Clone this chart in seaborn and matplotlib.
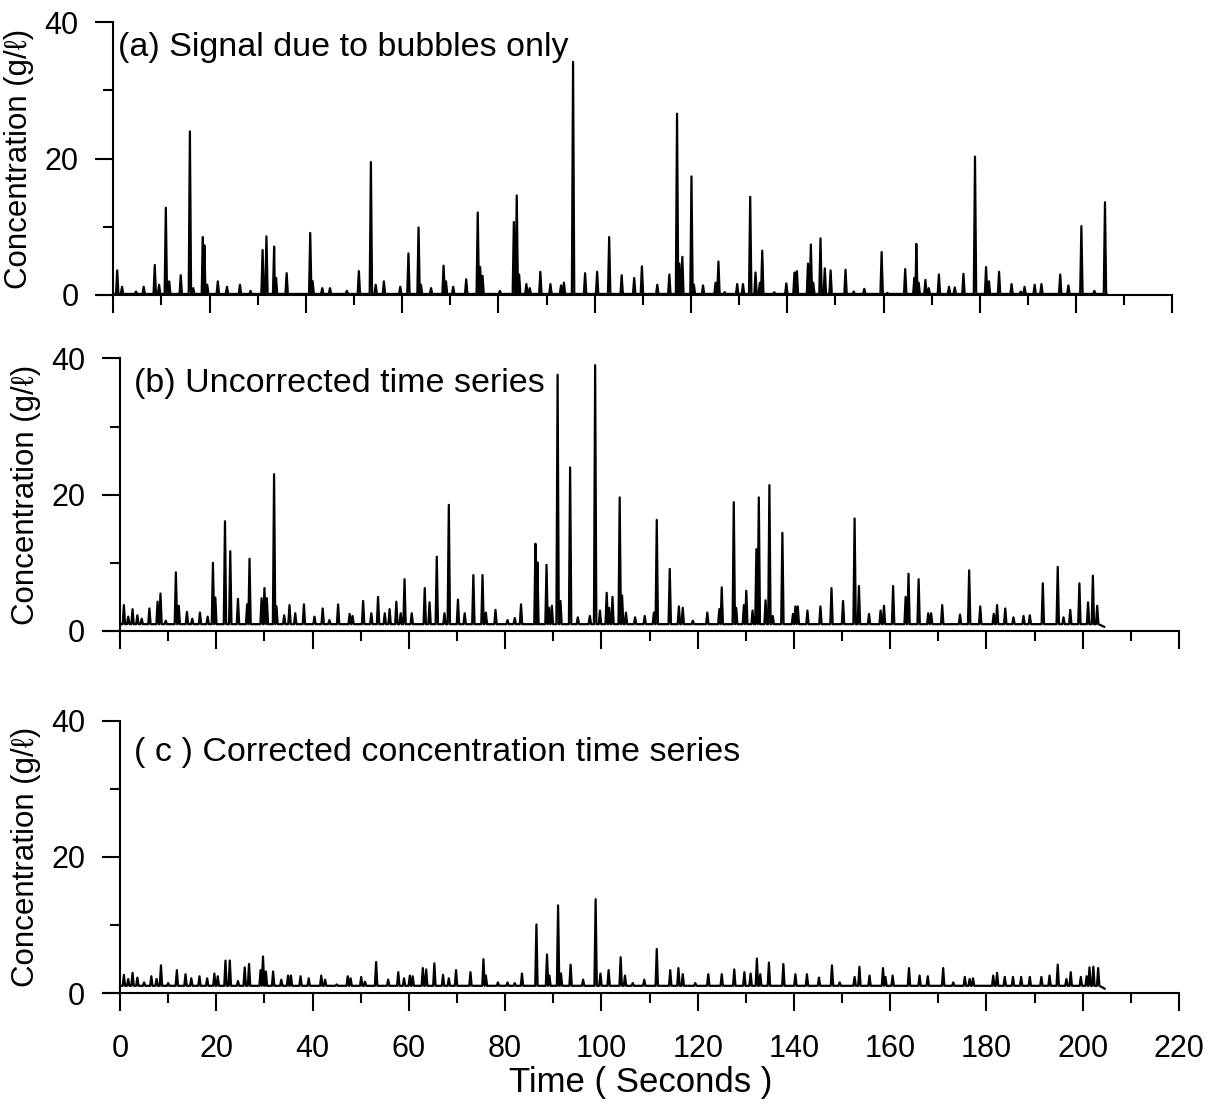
import pandas as pd
import matplotlib
matplotlib.use('Agg')
import matplotlib.pyplot as plt
import seaborn as sns
from matplotlib.ticker import MultipleLocator

# (a) signal due to bubbles only: spike times (s) and heights (g/l)
bubble_times = [0.8, 1.8, 4.7, 6.3, 8.6, 9.5, 10.9, 11.6, 14.0, 15.9, 16.6, 18.6, 18.9, 19.5,
                21.7, 23.6, 26.3, 28.5, 31.0, 31.8, 33.4, 33.8, 36.0, 40.9, 41.4, 43.4, 45.0,
                48.5, 51.0, 53.5, 54.5, 56.2, 59.6, 61.3, 63.4, 63.9, 66.0, 68.6, 69.1, 70.6,
                73.3, 75.7, 76.2, 76.7, 80.3, 83.2, 83.8, 84.3, 85.8, 86.5, 88.7, 90.8, 93.0,
                93.6, 95.5, 98.0, 100.5, 103.0, 105.6, 108.2, 109.8, 113.0, 115.5, 117.1, 117.6,
                118.2, 120.1, 120.6, 122.5, 125.1, 125.7, 127.0, 129.6, 130.8, 132.3, 133.4,
                134.3, 134.8, 137.3, 139.8, 141.5, 142.0, 144.3, 144.9, 145.4, 146.9, 147.8,
                149.0, 152.1, 153.8, 156.0, 159.6, 160.8, 164.5, 166.4, 166.8, 167.3, 168.7,
                169.4, 171.5, 173.6, 174.8, 176.6, 179.0, 181.3, 181.9, 184.0, 186.6, 188.5,
                189.3, 191.4, 192.8, 196.7, 198.4, 201.1, 203.8, 206.0]
bubble_peaks = [3.6, 1.2, 0.5, 1.2, 4.4, 1.5, 12.8, 2.0, 2.9, 24.0, 1.0, 8.5, 7.3, 1.5,
                2.0, 1.2, 1.5, 0.6, 6.6, 8.6, 7.1, 2.5, 3.2, 9.1, 2.0, 1.0, 1.0,
                0.6, 3.5, 19.5, 1.5, 2.0, 1.2, 6.1, 9.9, 1.5, 1.0, 4.3, 2.0, 1.2,
                2.3, 12.1, 4.1, 2.8, 0.6, 10.7, 14.6, 3.0, 1.6, 1.0, 3.4, 1.6, 1.4,
                1.8, 34.2, 3.2, 3.4, 8.5, 2.9, 2.5, 4.2, 1.5, 3.0, 26.6, 4.6,
                5.6, 17.4, 1.5, 1.4, 1.8, 4.9, 0.4, 1.6, 1.6, 14.4, 3.3,
                1.8, 6.5, 0.4, 1.7, 3.3, 3.5, 4.6, 7.4, 1.8, 8.3, 3.9,
                3.6, 3.7, 0.5, 0.9, 6.3, 0.3, 3.8, 2.5, 7.5, 1.8, 2.2,
                1.0, 3.0, 1.2, 1.1, 3.1, 20.3, 4.1, 2.0, 3.4, 1.6, 0.5,
                1.2, 1.5, 1.6, 3.0, 1.4, 10.1, 0.6, 13.6]
bubble_base = 0.15
bubble_end = 206.4

# (b) uncorrected time series
raw_times = [0.8, 1.7, 2.6, 3.6, 4.5, 6.1, 7.8, 8.4, 9.5, 11.6, 12.2, 13.9, 15.0, 16.6, 18.2,
             19.3, 19.8, 21.8, 22.9, 24.5, 26.4, 26.9, 29.4, 30.0, 30.5, 32.0, 32.5, 34.1,
             35.2, 36.4, 38.2, 40.4, 42.1, 43.5, 45.3, 47.7, 48.3, 50.5, 52.2, 53.6, 55.0,
             56.0, 57.4, 58.3, 59.1, 60.6, 63.3, 64.3, 65.8, 67.4, 68.3, 70.2, 71.6, 73.4,
             75.3, 76.0, 78.0, 80.5, 82.0, 83.3, 86.3, 86.7, 88.6, 89.1, 89.7, 90.9, 91.5,
             93.5, 95.1, 97.6, 98.7, 99.7, 101.1, 101.6, 102.3, 103.8, 104.3, 105.1, 107.0,
             109.0, 110.9, 111.5, 114.2, 116.1, 116.9, 119.0, 122.0, 124.5, 125.0, 127.5,
             128.0, 129.6, 130.1, 131.4, 132.2, 132.7, 134.1, 134.9, 135.6, 137.6, 139.8,
             140.3, 140.8, 142.8, 145.5, 147.8, 150.2, 152.6, 153.5, 155.6, 158.0, 158.7,
             160.6, 163.2, 163.8, 165.9, 167.9, 168.5, 170.8, 174.5, 176.4, 178.7, 181.5,
             182.2, 183.9, 185.6, 187.7, 189.0, 191.7, 194.8, 196.0, 197.4, 199.3, 201.1,
             202.1, 203.0]
raw_peaks = [3.8, 2.1, 3.2, 2.3, 1.8, 3.3, 4.3, 5.5, 1.5, 8.6, 3.7, 2.8, 1.8, 2.7, 2.1,
             10.0, 4.9, 16.1, 11.7, 4.7, 3.9, 10.6, 4.8, 6.3, 4.8, 23.0, 3.6, 2.3,
             3.8, 2.6, 3.9, 2.1, 3.3, 1.6, 3.9, 2.5, 2.2, 4.4, 2.6, 5.0, 2.6,
             3.2, 4.3, 2.6, 7.6, 2.6, 6.3, 4.2, 10.9, 2.6, 18.5, 4.6, 2.6, 8.2,
             8.2, 2.7, 3.1, 1.6, 1.9, 3.9, 12.8, 10.1, 9.7, 3.4, 3.7, 37.6, 4.4,
             24.0, 2.0, 2.2, 39.0, 3.0, 5.6, 3.4, 5.0, 19.6, 5.2, 2.7, 2.0,
             2.2, 2.7, 16.3, 9.1, 3.6, 3.4, 1.5, 2.7, 3.2, 6.4, 18.9,
             3.4, 3.8, 5.9, 3.0, 12.0, 19.6, 4.5, 21.4, 2.2, 14.4, 2.5,
             3.6, 3.6, 3.0, 3.6, 6.3, 4.4, 16.5, 6.6, 2.5, 3.0, 3.7,
             6.6, 5.0, 8.4, 7.6, 2.6, 2.6, 3.8, 2.4, 8.9, 3.6, 2.5,
             3.8, 3.3, 2.0, 2.2, 2.3, 7.0, 9.4, 2.0, 3.1, 7.0, 4.2,
             8.1, 3.7]
raw_base = 1.0
raw_end = 204.5

# (c) corrected concentration time series
corr_times = [0.8, 1.7, 2.6, 3.6, 5.0, 6.5, 7.6, 8.5, 10.0, 11.8, 13.6, 14.8, 16.5, 18.1, 19.6,
              20.3, 21.9, 22.8, 24.5, 25.9, 26.8, 29.2, 29.7, 30.3, 31.8, 33.5, 34.9, 35.5,
              37.5, 39.2, 41.8, 42.6, 45.0, 47.3, 47.9, 50.1, 50.9, 53.2, 55.7, 57.8, 59.0,
              60.2, 60.8, 62.9, 63.6, 65.3, 67.1, 68.3, 69.8, 72.8, 75.5, 76.0, 78.5, 80.5,
              82.0, 83.5, 86.5, 88.7, 89.2, 91.0, 91.6, 93.6, 96.2, 98.8, 99.8, 101.5, 104.0,
              104.9, 106.5, 108.9, 111.5, 114.3, 116.0, 116.9, 119.5, 122.2, 125.0, 127.6,
              129.7, 131.0, 132.3, 133.0, 134.8, 137.8, 140.3, 142.7, 145.2, 147.9, 149.5,
              152.6, 153.6, 155.7, 158.5, 159.0, 160.5, 163.9, 166.1, 167.8, 171.0, 173.1,
              175.5, 176.5, 177.2, 181.4, 182.2, 183.8, 185.5, 187.2, 189.0, 191.4, 193.1,
              194.8, 196.6, 197.5, 199.6, 200.8, 201.4, 202.2, 203.2]
corr_peaks = [2.7, 2.1, 3.0, 2.3, 1.6, 2.5, 2.1, 4.1, 1.5, 3.4, 2.8, 2.2, 2.5, 2.2, 2.9,
              2.5, 4.8, 4.8, 1.8, 3.8, 4.3, 3.4, 5.4, 3.2, 3.2, 2.0, 2.6, 2.6,
              2.5, 2.2, 2.6, 2.0, 1.3, 2.5, 2.2, 2.4, 1.7, 4.6, 2.0, 3.1, 2.2,
              2.6, 2.5, 3.7, 3.5, 4.4, 2.7, 2.2, 3.4, 3.1, 5.0, 2.6, 1.6, 1.6,
              1.5, 2.9, 10.1, 5.7, 2.6, 12.9, 2.9, 4.2, 2.0, 13.8, 2.9, 3.4, 5.3,
              2.6, 1.5, 2.0, 6.5, 3.4, 3.7, 2.8, 1.5, 2.8, 2.8, 3.5,
              3.1, 2.9, 5.1, 2.8, 4.5, 4.3, 2.8, 2.8, 2.3, 4.1, 1.6,
              2.4, 3.9, 2.6, 3.7, 2.4, 2.6, 3.7, 2.6, 2.5, 3.7, 1.6,
              2.4, 2.1, 2.2, 2.6, 3.0, 2.4, 2.4, 2.4, 2.4, 2.4, 2.6,
              4.2, 2.1, 3.1, 2.4, 2.5, 3.8, 3.9, 3.7]
corr_base = 1.1
corr_end = 204.6

panel_titles = ['(a) Signal due to bubbles only',
                '(b) Uncorrected time series',
                '( c ) Corrected concentration time series']


def build_trace(times, peaks, base, end, halfwidth=0.25):
    t = [0.0]
    c = [base]
    for tp, h in zip(times, peaks):
        t += [tp - halfwidth, tp, tp + halfwidth]
        c += [base, h, base]
    t.append(end)
    c.append(base * 0.6)
    df = pd.DataFrame({'time': t, 'conc': c})
    return df.sort_values('time', kind='stable').reset_index(drop=True)


sns.set_style('ticks')
plt.rcParams['font.family'] = ['Liberation Sans', 'DejaVu Sans']
plt.rcParams['axes.linewidth'] = 1.5
plt.rcParams['text.color'] = 'black'
plt.rcParams['axes.labelcolor'] = 'black'
plt.rcParams['axes.edgecolor'] = 'black'

fig = plt.figure(figsize=(12.14, 11.06), dpi=100)
traces = [build_trace(bubble_times, bubble_peaks, bubble_base, bubble_end),
          build_trace(raw_times, raw_peaks, raw_base, raw_end),
          build_trace(corr_times, corr_peaks, corr_base, corr_end)]
# panel (a) sits a few pixels further left in the original scan
lefts = [0.0795, 0.085, 0.085]
bottoms = [0.7333, 0.4295, 0.1019]
title_pos = [(1.0, 36.3), (2.8, 36.3), (2.8, 35.4)]

for i, (df, left, bottom) in enumerate(zip(traces, lefts, bottoms)):
    ax = fig.add_axes([left, bottom, 0.8862, 0.2465])
    sns.lineplot(data=df, x='time', y='conc', ax=ax, color='black', linewidth=1.6,
                 estimator=None, sort=False)
    ax.set_xlim(-3.5, 220)
    ax.set_ylim(0, 40)
    ax.spines['top'].set_visible(False)
    ax.spines['right'].set_visible(False)
    ax.spines['left'].set_position(('data', 0))
    ax.xaxis.set_major_locator(MultipleLocator(20))
    ax.xaxis.set_minor_locator(MultipleLocator(10))
    ax.yaxis.set_major_locator(MultipleLocator(20))
    ax.yaxis.set_minor_locator(MultipleLocator(10))
    ax.tick_params(which='major', direction='out', length=13, width=1.5,
                   labelsize=22, pad=12, colors='black')
    ax.tick_params(which='minor', direction='out', length=7, width=1.5, colors='black')
    ax.tick_params(axis='x', which='major', pad=16)
    ax.set_ylabel('Concentration (g/ℓ)', fontsize=22.5)
    ax.yaxis.set_label_coords(-0.058, 0.5)
    ax.set_xlabel('')
    ax.text(title_pos[i][0], title_pos[i][1], panel_titles[i], fontsize=24.5,
            ha='left', va='center')
    if i < 2:
        ax.tick_params(axis='x', labelbottom=False)
    else:
        ax.set_xlabel('Time ( Seconds )', fontsize=25, labelpad=2)

fig.savefig('out.png', dpi=100, facecolor='white')
